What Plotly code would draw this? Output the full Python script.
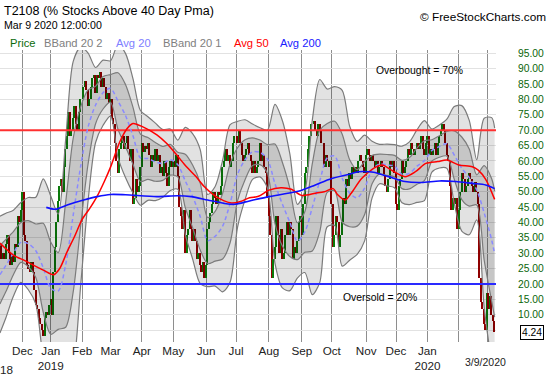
import pandas as pd
import plotly.graph_objects as go

FONT = "Liberation Sans, Arial, sans-serif"

# ---------------- calendar ----------------
start_date = "2018-11-09"
end_date = "2020-03-09"
holidays = ["2018-11-22", "2018-12-05", "2018-12-25", "2019-01-01", "2019-01-21",
            "2019-02-18", "2019-04-19", "2019-05-27", "2019-07-04", "2019-09-02",
            "2019-11-28", "2019-12-25", "2020-01-01", "2020-01-20", "2020-02-17"]
hidden_month_labels = ["2020-02", "2020-03"]

# ---------------- T2108 daily closes ----------------
close_nov18 = [33, 28, 30, 28, 33, 36, 30, 26, 29, 27, 33, 32, 42, 40, 44]
close_dec18 = [50, 36, 34, 26, 25, 24, 27, 24, 18, 13, 12, 9, 7, 5, 3, 9, 11, 10, 13]
close_jan19 = [15, 10, 24, 32, 40, 47, 52, 54, 50, 58, 64, 68, 76, 68, 70, 74, 78, 72, 70, 76, 80]
close_feb19 = [80, 84, 86, 83, 78, 80, 84, 87, 88, 82, 88, 87, 89, 84, 87, 84, 80, 82, 79]
close_mar19 = [80, 74, 72, 66, 60, 56, 64, 66, 68, 64, 66, 68, 64, 60, 64, 46, 48, 54, 50, 52, 58]
close_apr19 = [66, 63, 65, 64, 66, 62, 58, 62, 60, 64, 60, 62, 56, 58, 55, 60, 56, 52, 58, 60, 58]
close_may19 = [60, 58, 62, 55, 45, 42, 38, 44, 30, 36, 38, 44, 38, 34, 38, 34, 28, 30, 26, 24, 27, 22]
close_jun19 = [26, 38, 40, 43, 46, 50, 48, 46, 50, 49, 52, 58, 60, 64, 60, 62, 58, 60, 66, 68]
close_jul19 = [68, 66, 70, 66, 62, 60, 62, 64, 66, 62, 60, 56, 60, 56, 58, 60, 66, 60, 62, 58, 56, 48]
close_aug19 = [42, 36, 22, 28, 32, 42, 36, 30, 38, 28, 30, 36, 40, 36, 40, 38, 28, 32, 30, 34, 40, 42]
close_sep19 = [36, 46, 56, 58, 64, 68, 72, 72, 73, 70, 68, 72, 70, 66, 66, 58, 62, 60, 58, 60]
close_oct19 = [46, 32, 36, 42, 40, 32, 36, 40, 48, 46, 54, 52, 56, 54, 58, 56, 58, 56, 60, 62, 60, 58, 56]
close_nov19 = [62, 64, 62, 60, 62, 60, 58, 60, 56, 58, 60, 58, 55, 52, 50, 54, 60, 58, 60, 56]
close_dec19 = [46, 44, 52, 54, 60, 56, 58, 60, 64, 62, 66, 64, 62, 64, 66, 64, 66, 68, 64, 62, 66]
close_jan20 = [68, 62, 64, 62, 64, 66, 62, 66, 68, 70, 72, 70, 66, 62, 60, 52, 44, 48, 46, 48, 38]
close_feb20 = [44, 50, 56, 54, 50, 52, 54, 56, 54, 52, 50, 53, 50, 46, 22, 14, 12, 7, 5]
close_mar20 = [17, 12, 16, 10, 8, 4.24]
prior_close = 30

# ---------------- Bollinger bands (20,2 and 20,1) read at sample trading days ----------------
band_day = [0, 4, 9, 14, 19, 24, 29, 34, 39, 44, 49, 54, 59, 64, 69, 74, 79, 84, 89, 94,
            99, 104, 109, 114, 119, 124, 129, 134, 139, 144, 149, 154, 159, 164, 169, 174,
            179, 184, 189, 194, 199, 204, 209, 214, 219, 224, 229, 234, 239, 244, 249, 254,
            259, 264, 269, 274, 279, 284, 289, 294, 299, 304, 309, 314, 319, 324, 329, 331]
avg20 = [23, 26, 30, 33.5, 33.1, 30.8, 25.2, 18.6, 17.7, 26.3, 42.3, 58.2, 71.1, 78.2, 82.2,
         83.6, 79.5, 74.8, 68.2, 61, 60.8, 59.7, 59.2, 60.4, 58.8, 53.5, 48.4, 41.9, 34.1,
         35.5, 38.8, 46.2, 55.7, 60.4, 63, 62.8, 60.6, 52.6, 45.9, 40, 33.9, 36.9, 44.9, 53.5,
         61, 61.6, 54.4, 49.5, 48, 51.2, 57.2, 59, 58.7, 58.3, 55.6, 56, 58.3, 60.1, 63.4,
         64.7, 65.6, 61.9, 57.6, 54.6, 50.6, 43.1, 34.3, 29.7]
bband2_up = [42, 43, 44, 46.5, 48.1, 48.2, 54.2, 48.6, 42.7, 67.1, 92.3, 97, 95.1, 90.4, 92.8,
             92.6, 97.9, 95, 86.8, 76.4, 74.4, 72.3, 70.2, 70.4, 66.8, 70.9, 68.8, 63.7, 49.1,
             51.7, 60.2, 71.8, 72.9, 73.4, 72, 70.8, 70, 78.4, 73.1, 62.2, 45.9, 50.1, 73.3,
             86.5, 83.4, 84.2, 83, 71.3, 66.4, 68.4, 66.4, 65.4, 65.5, 65.3, 64.8, 66.2, 70.1,
             73.1, 70.4, 71.7, 73.6, 77.7, 78, 73.2, 60.4, 73.9, 74.1, 70.7]
bband1_up = [32.5, 34.5, 37, 40, 40.6, 39.5, 39.7, 33.6, 30.2, 46.7, 67.3, 77.6, 83.1, 84.3,
             87.5, 88.1, 88.7, 84.9, 77.5, 68.7, 67.6, 66, 64.7, 65.4, 62.8, 62.2, 58.6, 52.8,
             41.6, 43.6, 49.5, 59, 64.3, 66.9, 67.5, 66.8, 65.3, 65.5, 59.5, 51.1, 39.9, 43.5,
             59.1, 70, 72.2, 72.9, 68.7, 60.4, 57.2, 59.8, 61.8, 62.2, 62.1, 61.8, 60.2, 61.1,
             64.2, 66.6, 66.9, 68.2, 69.6, 69.8, 67.8, 63.9, 55.5, 58.5, 54.2, 50.2]
bband1_lo = [13.5, 17.5, 23, 27, 25.6, 22.1, 10.7, 3.6, 5.2, 5.9, 17.3, 38.8, 59.1, 72.1, 76.9,
             79.1, 70.3, 64.7, 58.9, 53.3, 54, 53.4, 53.7, 55.4, 54.8, 44.8, 38.2, 31, 26.6,
             27.4, 28.1, 33.4, 47.1, 53.9, 58.5, 58.8, 55.9, 39.7, 32.3, 28.9, 27.9, 30.3, 30.7,
             37, 49.8, 50.3, 40.1, 38.6, 38.8, 42.6, 52.6, 55.8, 55.3, 54.8, 51, 50.9, 52.4,
             53.6, 59.9, 61.2, 61.6, 54, 47.4, 45.3, 45.7, 27.7, 14.4, 9.2]
bband2_lo = [4, 9, 16, 20.5, 18.1, 13.4, -3.8, -11.4, -7.4, -14.6, -7.7, 19.4, 47.1, 66, 71.6,
             74.6, 61.1, 54.6, 49.6, 45.6, 47.2, 47.1, 48.2, 50.4, 50.8, 36.1, 28, 20.1, 19.1,
             19.3, 17.4, 20.6, 38.5, 47.4, 54, 54.8, 51.2, 26.8, 18.7, 17.8, 21.9, 23.7, 16.5,
             20.5, 38.6, 39, 25.8, 27.7, 29.6, 34, 48, 52.6, 51.9, 51.3, 46.4, 45.8, 46.5, 47.1,
             56.4, 57.7, 57.6, 46.1, 37.2, 36, 40.8, 12.3, -5.5, -11.3]

# ---------------- moving averages read at sample trading days ----------------
avg50_day = [0, 9, 17, 22, 29, 36, 40, 45, 50, 55, 60, 65, 70, 74, 80, 85, 89, 96, 105, 112,
             119, 125, 131, 137, 143, 150, 155, 161, 167, 173, 180, 188, 195, 202, 211, 217,
             223, 226, 231, 235, 242, 250, 256, 262, 271, 278, 285, 293, 299, 307, 316, 320,
             325, 331]
avg50 = [33.3, 29.4, 27.5, 26.2, 24.5, 23, 25, 30.5, 35.5, 41, 44.5, 48.5, 53.5, 58, 66, 70.5,
         72.2, 71, 68.5, 65.5, 61.5, 58, 55, 51.5, 49, 47, 46.3, 46.8, 48, 48.5, 50.5, 51.3,
         50.8, 48.8, 49.5, 50, 51, 49, 47.3, 49.5, 54.3, 57.6, 58.7, 57, 54.9, 56.5, 59.2,
         59.8, 60.3, 58.7, 58.1, 57, 54, 47.5]
avg200_day = [31, 37, 45, 56, 65, 74, 84, 105, 119, 128, 139, 150, 157, 167, 180, 188, 202,
              211, 222, 233, 240, 247, 250, 260, 271, 282, 294, 305, 316, 325, 331]
avg200 = [44.9, 44.3, 45.7, 47.3, 48.4, 49.1, 49, 48.4, 48.7, 48.4, 47.3, 46.2, 45.9, 47,
          48.4, 49.1, 50.5, 52.2, 54.3, 55.6, 56.5, 56.5, 56.3, 54.9, 53.3, 53, 53.5, 53.3,
          52.7, 52.2, 51]

overbought = 70
oversold = 20
y_tick_values = [5, 10, 15, 20, 25, 30, 35, 40, 45, 50, 55, 60, 65, 70, 75, 80, 85, 90, 95]

# ---------------- build ----------------
close = (close_nov18 + close_dec18 + close_jan19 + close_feb19 + close_mar19 + close_apr19 +
         close_may19 + close_jun19 + close_jul19 + close_aug19 + close_sep19 + close_oct19 +
         close_nov19 + close_dec19 + close_jan20 + close_feb20 + close_mar20)
dates = pd.bdate_range(start_date, end_date, freq="C", holidays=holidays)
n = len(dates)
assert n == len(close), (n, len(close))
day = list(range(n))
opens = [prior_close] + close[:-1]
bar_len = [c - o for c, o in zip(close, opens)]
bar_col = ["#0b7a0b" if c >= o else "#8f0000" for c, o in zip(close, opens)]

x_range = [0.05, n - 0.1]
y_range = [1.1, 96.1]

tick_pos, tick_txt = [], []
for i in range(1, n):
    if dates[i].month != dates[i - 1].month:
        d = dates[i]
        lab = d.strftime("%b")
        if d.month == 1:
            lab += "<br>" + str(d.year)
        if d.strftime("%Y-%m") in hidden_month_labels:
            lab = ""
        tick_pos.append(i)
        tick_txt.append(lab)

BAND_LINE = dict(color="#7b7b7b", width=1.2, shape="spline", smoothing=0.8)

fig = go.Figure()
fig.add_trace(go.Scatter(x=band_day, y=bband2_lo, mode="lines", line=BAND_LINE))
fig.add_trace(go.Scatter(x=band_day, y=bband2_up, mode="lines", line=BAND_LINE,
                         fill="tonexty", fillcolor="rgba(0,0,0,0.115)"))
fig.add_trace(go.Scatter(x=band_day, y=bband1_lo, mode="lines", line=BAND_LINE))
fig.add_trace(go.Scatter(x=band_day, y=bband1_up, mode="lines", line=BAND_LINE,
                         fill="tonexty", fillcolor="rgba(0,0,0,0.12)"))
fig.add_trace(go.Scatter(x=x_range, y=[overbought, overbought], mode="lines",
                         line=dict(color="#ff3030", width=2)))
fig.add_trace(go.Scatter(x=x_range, y=[oversold, oversold], mode="lines",
                         line=dict(color="#2a2aff", width=2)))
fig.add_trace(go.Scatter(x=band_day, y=avg20, mode="lines",
                         line=dict(color="#8a8aff", width=1.5, dash="4px,3px",
                                   shape="spline", smoothing=0.8)))
fig.add_trace(go.Bar(x=day, y=bar_len, base=opens, width=1.0,
                     marker=dict(color=bar_col, line=dict(width=0))))
fig.add_trace(go.Scatter(x=avg50_day, y=avg50, mode="lines",
                         line=dict(color="#ff0000", width=1.5, shape="spline", smoothing=0.8)))
fig.add_trace(go.Scatter(x=avg200_day, y=avg200, mode="lines",
                         line=dict(color="#1010ff", width=1.6, shape="spline", smoothing=0.8)))

W_PLOT = 496.0
def px_x(p):
    return p / W_PLOT
def px_y(p):
    return (342.0 - p) / 292.0

ann = []
def text(s, x, y, size, color="#000000", xanchor="left"):
    ann.append(dict(text=s, x=px_x(x), y=px_y(y), xref="paper", yref="paper",
                    xanchor=xanchor, yanchor="middle", showarrow=False,
                    font=dict(family=FONT, size=size, color=color)))

text("T2108 (% Stocks Above 40 Day Pma)", 1.5, 11, 12.5)
text("Mar 9 2020 12:00:00", 1.5, 25, 10.6)
text("\u00a9 FreeStockCharts.com", 548, 17, 11.8, xanchor="right")
legend_items = [("Price", "#0b6b0b", 8), ("BBand 20 2", "#808080", 42),
                ("Avg 20", "#8080ff", 114), ("BBand 20 1", "#808080", 161),
                ("Avg 50", "#ff0000", 232), ("Avg 200", "#1a1aff", 278)]
for s, c, x in legend_items:
    text(s, x, 43.5, 11.2, c)
text("Overbought = 70%", 419, 70.5, 10.4, xanchor="center")
text("Oversold = 20%", 380, 297, 10.4, xanchor="center")
text("3/9/2020", 485, 362, 10.5, "#222222", xanchor="center")
text("2018", 0, 369.5, 11.7, "#222222", xanchor="center")
ann.append(dict(text="%.2f" % close[-1], x=px_x(531.5), y=close[-1], xref="paper", yref="y",
                xanchor="center", yanchor="middle", showarrow=False,
                bordercolor="#000000", borderwidth=1, borderpad=1, bgcolor="#ffffff",
                font=dict(family=FONT, size=10.3, color="#000000")))

fig.update_layout(
    width=550, height=375,
    margin=dict(l=0, r=54, t=50, b=33, autoexpand=False),
    paper_bgcolor="#ffffff", plot_bgcolor="#ffffff",
    showlegend=False, bargap=0,
    font=dict(family=FONT),
    annotations=ann,
    xaxis=dict(range=x_range, tickvals=tick_pos, ticktext=tick_txt, showgrid=True,
               gridcolor="#8e8e8e", gridwidth=1, zeroline=False, showline=False,
               automargin=False,
               ticks="", tickfont=dict(family=FONT, size=11.7, color="#222222")),
    yaxis=dict(range=y_range, side="right", tickvals=y_tick_values,
               ticktext=["" if v == 5 else "%.2f" % v for v in y_tick_values],
               showgrid=True, gridcolor="#e2e2e2", gridwidth=1, zeroline=False,
               automargin=False,
               showline=False, ticks="", ticklabelstandoff=21,
               tickfont=dict(family=FONT, size=10.3, color="#0a650a")),
)

fig.write_html("out.html", config={"displayModeBar": False},
               post_script="document.body.style.margin='0px';document.body.style.padding='0px';")
